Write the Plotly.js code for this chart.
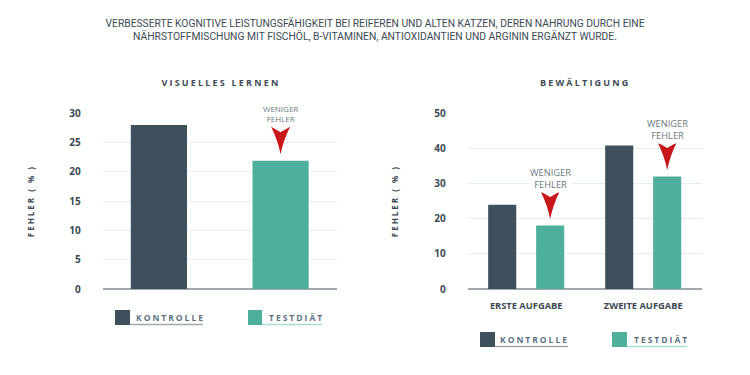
<!DOCTYPE html>
<html>
<head>
<meta charset="utf-8">
<script src="https://cdn.plot.ly/plotly-3.0.1.min.js"></script>
<style>
  html, body { margin: 0; padding: 0; background: #fff; }
  #chart { width: 750px; height: 375px; }
  .annotation[data-index="0"] text, .annotation[data-index="1"] text { letter-spacing: 2.2px; }
  .annotation[data-index="2"] text, .annotation[data-index="3"] text,
  .annotation[data-index="4"] text, .annotation[data-index="5"] text { letter-spacing: 2px; }
  text.ytitle, text.y2title { letter-spacing: 2px; }
</style>
</head>
<body>
<div id="chart"></div>
<script>
// ---- data ----
const seriesNames = ['KONTROLLE', 'TESTDIÄT'];
const visualCategories = ['Kontrolle', 'Testdiät'];
const visualKontrolle = [28.0];
const visualTestdiaet = [21.9];
const copingTasks = ['ERSTE AUFGABE', 'ZWEITE AUFGABE'];
const copingKontrolle = [24.0, 40.8];
const copingTestdiaet = [18.1, 32.0];
const leftTicks = [0, 5, 10, 15, 20, 25, 30];
const rightTicks = [0, 10, 20, 30, 40, 50];
const mainTitle = 'VERBESSERTE KOGNITIVE LEISTUNGSFÄHIGKEIT BEI REIFEREN UND ALTEN KATZEN, DEREN NAHRUNG DURCH EINE<br>NÄHRSTOFFMISCHUNG MIT FISCHÖL, B-VITAMINEN, ANTIOXIDANTIEN UND ARGININ ERGÄNZT WURDE.';
const panelTitles = ['VISUELLES LERNEN', 'BEWÄLTIGUNG'];
const yTitle = 'FEHLER ( % )';
const calloutText = 'WENIGER<br>FEHLER';

// ---- styles ----
const DARK = '#3e505c';
const TEAL = '#4daf9c';
const TXT = '#3d4a55';
const LEG = '#5b7282';
const RED = '#c8161a';
const FONT = 'Open Sans, sans-serif';

const traces = [
  { type: 'bar', x: [visualCategories[0]], y: visualKontrolle, xaxis: 'x', yaxis: 'y',
    marker: { color: DARK }, width: 0.48, offset: -0.26, hoverinfo: 'y', showlegend: false, name: seriesNames[0] },
  { type: 'bar', x: [visualCategories[1]], y: visualTestdiaet, xaxis: 'x', yaxis: 'y',
    marker: { color: TEAL }, width: 0.48, offset: -0.22, hoverinfo: 'y', showlegend: false, name: seriesNames[1] },
  { type: 'bar', x: copingTasks, y: copingKontrolle, xaxis: 'x2', yaxis: 'y2',
    marker: { color: DARK }, width: 0.24, offset: -0.325, hoverinfo: 'y', showlegend: false, name: seriesNames[0] },
  { type: 'bar', x: copingTasks, y: copingTestdiaet, xaxis: 'x2', yaxis: 'y2',
    marker: { color: TEAL }, width: 0.24, offset: 0.085, hoverinfo: 'y', showlegend: false, name: seriesNames[1] }
];

const yDomain = [0.2293, 0.6979];
const yCommon = {
  domain: yDomain, showgrid: true, gridcolor: '#e7eef3', gridwidth: 1,
  zeroline: true, zerolinecolor: '#a3a8ac', zerolinewidth: 2,
  showline: false, ticks: '', ticklabelstandoff: 21,
  tickfont: { family: FONT, size: 10, color: TXT, weight: 700 },
  title: { text: yTitle, font: { family: FONT, size: 8, color: TXT, weight: 700 }, standoff: 30 },
  fixedrange: true
};

const layout = {
  width: 750, height: 375,
  margin: { l: 0, r: 0, t: 0, b: 0 },
  paper_bgcolor: '#fff', plot_bgcolor: '#fff',
  showlegend: false,
  title: {
    text: mainTitle, x: 0.5, xanchor: 'center', y: 1 - 27 / 375, yanchor: 'top', yref: 'container',
    font: { family: 'Roboto, sans-serif', size: 10.3, color: TXT }
  },
  xaxis: { domain: [0.137, 0.449], range: [-0.5, 1.5], type: 'category', showticklabels: false, ticks: '', showgrid: false, zeroline: false, fixedrange: true },
  yaxis: Object.assign({}, yCommon, { anchor: 'x', range: [0, 30], tickvals: leftTicks, title: Object.assign({}, yCommon.title, { standoff: 33 }) }),
  xaxis2: { domain: [0.6236, 0.9356], range: [-0.5, 1.5], type: 'category', anchor: 'y2', ticks: '', showgrid: false, zeroline: false,
    ticklabelstandoff: 10, tickfont: { family: FONT, size: 9.3, color: TXT, weight: 700 }, fixedrange: true },
  yaxis2: Object.assign({}, yCommon, { anchor: 'x2', range: [0, 50], tickvals: rightTicks, title: Object.assign({}, yCommon.title, { standoff: 34 }) }),
  annotations: [],
  shapes: []
};

function P(px) { return px / 750; }
function Q(py) { return (375 - py) / 375; }

// panel titles (index 0,1)
layout.annotations.push({ xref: 'paper', yref: 'paper', x: P(221), y: Q(82), text: panelTitles[0], showarrow: false,
  xanchor: 'center', yanchor: 'middle', font: { family: FONT, size: 9, color: TXT, weight: 700 } });
layout.annotations.push({ xref: 'paper', yref: 'paper', x: P(585), y: Q(82), text: panelTitles[1], showarrow: false,
  xanchor: 'center', yanchor: 'middle', font: { family: FONT, size: 9, color: TXT, weight: 700 } });

// custom legends (index 2..5)
const legendSets = [
  { sq: [[115, 130], [310, 325]], tx: 170, ty: 317.5, ul: [130, 203], uy: 325, color: DARK, ulc: '#a0a8ae', name: seriesNames[0] },
  { sq: [[248, 262], [310, 325]], tx: 296, ty: 317.5, ul: [262, 322], uy: 325, color: TEAL, ulc: '#a9ddd1', name: seriesNames[1] },
  { sq: [[480, 495], [332, 347]], tx: 534.5, ty: 339.5, ul: [495, 568], uy: 347, color: DARK, ulc: '#a0a8ae', name: seriesNames[0] },
  { sq: [[612, 627], [332, 347]], tx: 661, ty: 339.5, ul: [627, 687], uy: 347, color: TEAL, ulc: '#a9ddd1', name: seriesNames[1] }
];
legendSets.forEach(l => {
  layout.shapes.push({ type: 'line', xref: 'paper', yref: 'paper', x0: P(l.ul[0]), x1: P(l.ul[1]), y0: Q(l.uy - 0.5), y1: Q(l.uy - 0.5),
    line: { color: l.ulc, width: 1.5 } });
  layout.shapes.push({ type: 'rect', xref: 'paper', yref: 'paper', x0: P(l.sq[0][0]), x1: P(l.sq[0][1]), y0: Q(l.sq[1][1]), y1: Q(l.sq[1][0]),
    fillcolor: l.color, line: { width: 0 } });
  layout.annotations.push({ xref: 'paper', yref: 'paper', x: P(l.tx), y: Q(l.ty), text: l.name, showarrow: false,
    xanchor: 'center', yanchor: 'middle', font: { family: FONT, size: 8.5, color: LEG, weight: 700 } });
});

// callouts: text + notched red arrow anchored at the top of each Testdiät bar
const arrowPath = 'M0,6.5 Q2.6,20 9.5,34 L0,28.5 L-9.5,34 Q-2.6,20 0,6.5 Z';
function addCallout(xref, yref, xPos, yVal, fontSize) {
  layout.annotations.push({ xref: xref, yref: yref, x: xPos, y: yVal, text: calloutText, showarrow: false,
    xanchor: 'center', yanchor: 'middle', yshift: 47, bgcolor: '#fff', borderpad: 1,
    font: { family: FONT, size: fontSize, color: '#6e7a83' }, align: 'center' });
  layout.shapes.push({ type: 'path', xref: xref, yref: yref, xsizemode: 'pixel', ysizemode: 'pixel',
    xanchor: xPos, yanchor: yVal, path: arrowPath, fillcolor: RED, line: { width: 0 }, layer: 'above' });
}
addCallout('x', 'y', 1.02, visualTestdiaet[0], 8);
copingTasks.forEach((t, i) => addCallout('x2', 'y2', i + 0.205, copingTestdiaet[i], 9.3));

Plotly.newPlot('chart', traces, layout, { displayModeBar: false, staticPlot: true });
</script>
</body>
</html>
